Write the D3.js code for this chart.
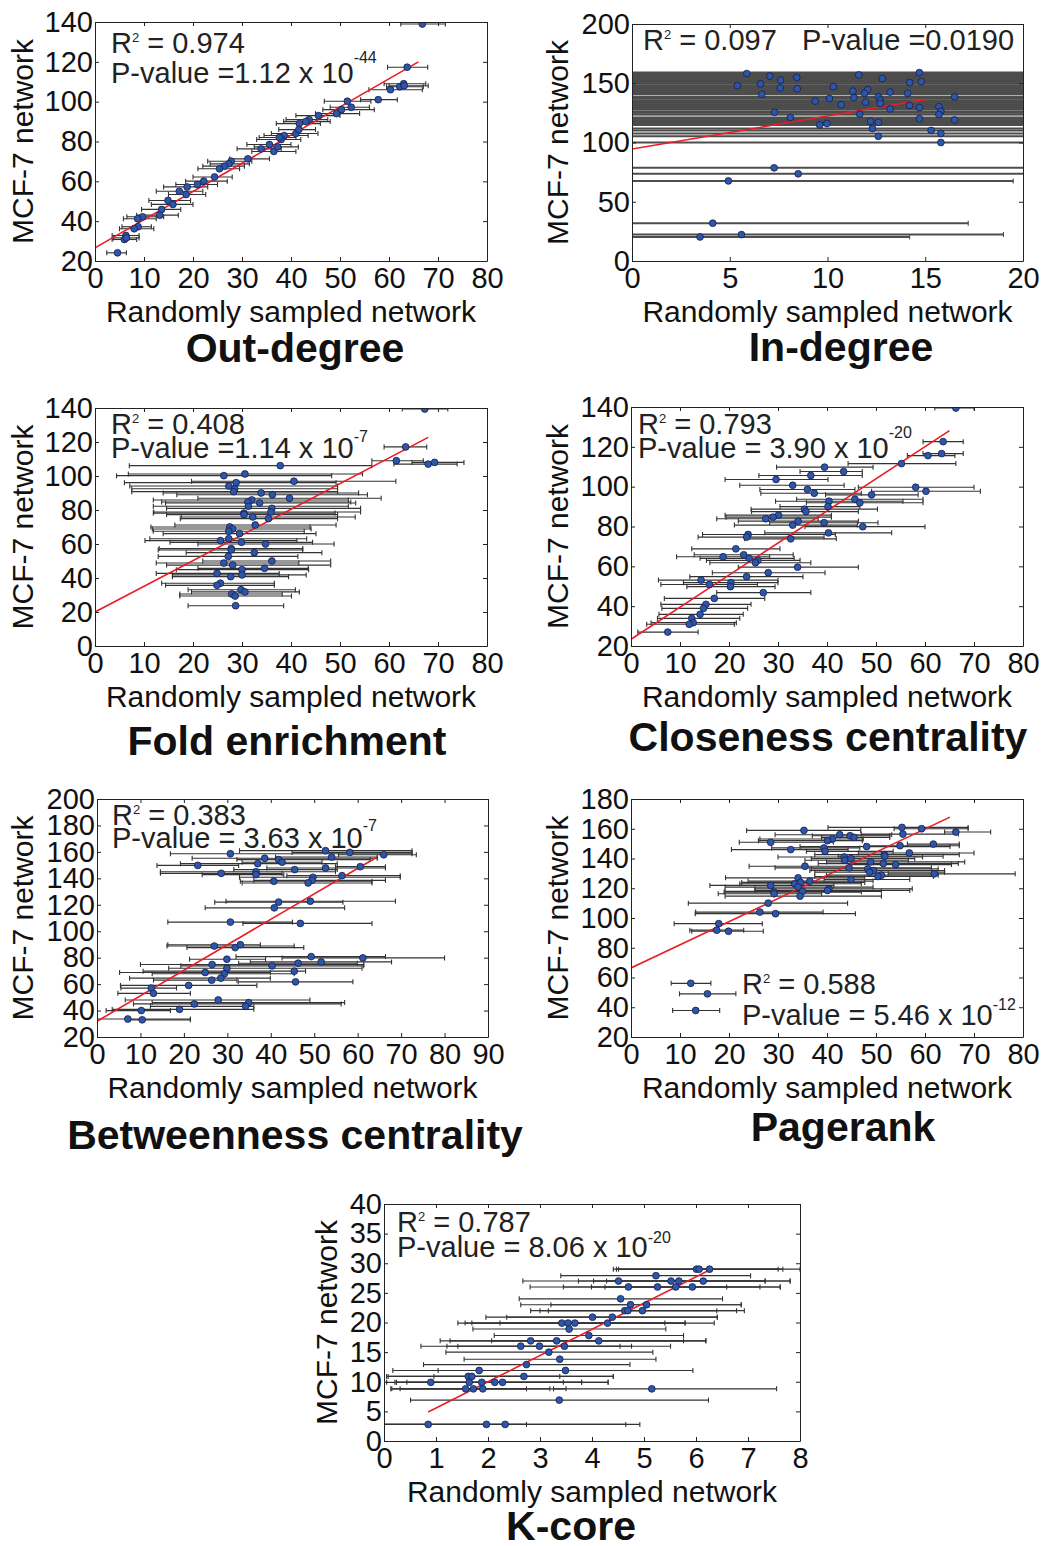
<!DOCTYPE html>
<html>
<head>
<meta charset="utf-8">
<script src="https://cdn.jsdelivr.net/npm/d3@7"></script>
<style>
  body { margin: 0; background: #fff; }
</style>
</head>
<body>
<svg id="chart"></svg>
<script>
// ---- data: each point is [x, y, xLow, xHigh] ----
const outDegree = [
  [66.8,139,62.4,71.5],[63.7,117.3,59.7,67.9],[60.3,106,55.9,66.8],[62.2,107.5,59.5,67],
  [63,109,59,67.5],[63.1,108,60,68],[57.8,101,54.2,61.7],[51.5,100.2,46.8,56.3],
  [50.3,96,46.5,57],[52.3,97.2,48,56],[49.3,94,45,54],[45.6,93,41,50],
  [43.7,91,39,47.5],[43,90,38.5,48],[41.7,89,37,46],[41,84,36,45.5],
  [41.6,86,37.5,45],[38.6,83,34.5,43.5],[38,81,33,42],[37.6,82,33.5,41],
  [35.6,78.5,31,40],[33.9,76.3,29,38],[36.5,75,32,41],[37.3,77.3,32.5,41.5],
  [31.2,71.3,27.5,35.6],[27.8,70.1,23,32],[27.3,68.8,23.5,31.5],[26.4,67.6,22,30.5],
  [25.4,66.3,21,29.5],[24.4,62.2,20,28],[22.2,60.1,18.5,27],[20.9,58.4,16.5,25],
  [18.8,57.2,14,23],[18.6,53.4,15,22.6],[17.2,55,12.5,22],[14.9,50.4,11,19.5],
  [15.9,48.4,11.5,20],[13.6,45.9,9.5,17.5],[13.2,43,8.5,17],[9.7,42.2,6.5,14],
  [8.7,41.2,5.8,12.5],[8.8,37.2,5.5,11.5],[8,36.2,5,12],[6.3,32.8,3.5,9],
  [6,30.8,3.5,8.5],[6.4,31.6,3.8,9],[4.6,24.1,2.4,6.4]
];
const inDegree = [
  [5.87,158.2,-5,25],[7.05,156,-5,25],[7.6,152.7,-5,25],[8.43,154.9,-5,25],
  [5.39,148,-5,25],[6.57,149.5,-5,25],[7.58,146,-5,25],[8.45,145.3,-5,25],
  [11.6,157,-5,25],[12.8,154,-5,25],[14.7,159,-5,25],[14.8,151.4,-5,25],
  [14.2,150.5,-5,25],[10.3,147.2,-5,25],[11.3,143.4,-5,25],[12.05,144.5,-5,25],
  [13.2,142.6,-5,25],[14.1,141.5,-5,25],[6.64,140.7,-5,25],[9.37,134.9,-5,25],
  [10.1,137.1,-5,25],[10.7,131.9,-5,25],[11.35,137.9,-5,25],[11.9,141.5,-5,25],
  [11.95,134,-5,25],[12.6,138.7,-5,25],[12.7,135.7,-5,25],[12.7,132.9,-5,25],
  [16.5,138.5,-5,25],[14.2,131.3,-5,25],[14.7,129.4,-5,25],[13.2,128.3,-5,25],
  [15.7,130.2,-5,25],[15.8,126.4,-5,25],[15.7,123.6,-5,25],[11.65,123.9,-5,25],
  [7.29,125.5,-5,25],[8.1,121.2,-5,25],[14.7,120.1,-5,25],[16.5,119,-5,25],
  [12.2,117.9,-5,25],[12.6,117,-5,25],[9.6,114.8,-5,25],[9.97,116,-5,25],
  [12.3,111.8,-5,25],[15.3,110.2,-5,25],[15.8,107.7,-5,25],[12.6,105.2,-5,25],
  [15.8,100,-5,25],[7.27,78.6,-5,25],[8.5,73.6,-5,25],[4.93,67.6,-5,19.5],
  [4.13,31.9,-5,17.2],[5.6,22.3,-5,19.0],[3.48,20.3,-5,14.2]
];
const foldEnrichment = [
  [67.3,139.4,62.7,72],[63.4,117.1,59,67.7],[61.5,109,56.5,67],[68,107,61,73.9],
  [69.3,108,64.7,75.3],[37.8,106.1,7,56.5],[26.3,100.2,4.4,48.3],[30.6,101.2,6.8,54.6],
  [40.6,96.9,19.7,61.4],[28.8,96.1,6,49.2],[27.3,94.1,7.1,49.5],[28.5,92.5,7.5,49.5],
  [28.3,90.8,7.5,49.5],[33.9,90,13.9,53.8],[36.2,89,16.7,55.6],[39.7,86.9,21,58.4],
  [32,85.9,11.9,51.7],[31.2,84.7,13.6,52.2],[33.6,84.1,14.4,53.2],[31.3,82.2,11.9,51.7],
  [36.1,81,14.6,54.2],[35.9,78.8,12,54.2],[30.4,78.2,11.9,49],[30.4,77.3,14.6,49.5],
  [32.2,75.9,17.6,53.1],[35.4,74.9,17.4,49.5],[32.7,71.2,16.3,49.2],[27.5,70,11.4,43.9],
  [28.1,68.8,11.7,44.1],[27.3,67.5,11.9,42.7],[29.5,66.1,13.9,45.1],[27.3,63.1,11.2,43.2],
  [25.6,62,10.2,41.2],[29.9,61,15.3,44.4],[34.8,60,21,48.8],[27.8,57.3,13.1,42.4],
  [27.8,56.5,12.9,42.4],[32.5,54.9,18.6,46.3],[27.2,52.7,12.9,41.4],[36.1,50,22,48.1],
  [26.3,48.8,12.5,41.6],[28.1,47.6,14.6,48.1],[34.6,45.7,21,43.5],[30,44.9,16.6,43.6],
  [24.9,42.7,12.5,37.6],[27.7,40.8,15.8,39.5],[30,41.8,15.8,43.1],[25.6,36.9,13.6,36.6],
  [24.9,35.7,14.4,36.6],[29.8,33.1,19,40.9],[30.6,31.8,19.7,41.7],[27.9,30.6,17.3,38.2],
  [28.6,29.4,17.3,40.1],[28.7,23.7,19,38.5]
];
const closeness = [
  [66.3,139.5,62,70],[63.7,122.6,59.6,67.8],[63.4,116.6,59.6,67.8],[60.6,115.6,56.4,66.1],
  [55.2,111.6,44.3,66.3],[39.5,109.8,29.7,49.4],[43.4,107.6,34.5,47.2],[36.7,105.6,26.1,47.2],
  [29.6,103.6,19.2,40.2],[33,100.7,22.2,43.5],[58.1,99.7,46.4,70],[60.2,97.7,49.1,71.3],
  [36,98.6,26.3,45.7],[37.4,96.7,26.5,47],[49.1,95.9,39.7,58.6],[40.4,92.7,29.5,55.5],
  [45.7,93.7,33.8,59.6],[46.7,91.9,35.8,59.6],[40.2,90,30.4,46.7],[35.4,88.7,24.5,50.3],
  [35.7,87.5,24.6,46.4],[30.1,85.7,19.2,40.9],[29,84.7,19.4,40.9],[27.5,83.9,17.5,38.2],
  [34.1,82.7,21.9,46.4],[33,80.7,21.1,46.2],[39.4,81.9,28.3,50.4],[47.3,79.9,35.5,60],
  [40.3,76.8,27.3,53.2],[23.9,76,14.6,41.7],[23.6,74.7,13.7,39.4],[32.6,73.8,23.2,41.9],
  [21.4,68.8,12.4,30.4],[18.8,64.8,9.3,28.3],[23,65.8,12.9,33.1],[24.1,64,14.1,33.3],
  [25.9,63,15.4,34.5],[25.4,61.8,16.1,36.7],[34,59.6,21.9,46.4],[28,56.8,16.6,39.6],
  [23.6,54.8,12,35.1],[14.3,53.1,5.6,30],[16,50.9,6.1,25.8],[20.4,51.8,10.7,30],
  [20.3,49.8,11.4,29.4],[27,46.8,17.5,36.7],[17,43.9,6.8,27.3],[15.3,40.9,6.1,24.5],
  [14.8,38.9,6.3,23.8],[14.1,35.9,5.7,22.9],[12.4,33.9,5.4,22.2],[12.7,31.7,4.1,21.5],
  [11.9,30.9,3.2,21.1],[7.5,27,1.4,13.7]
];
const betweenness = [
  [30.7,158.6,16.9,72.5],[52.6,160.9,32.8,72.5],[58.2,159.6,44.9,72.5],[66,157.8,55.6,73.5],
  [38.6,155.2,21.9,64.5],[41.8,154.2,32.2,62.9],[42.6,152.2,33.4,51.8],[54,156.1,41.1,64.5],
  [37,151.1,19.2,55.3],[23.2,149.8,13.8,32.6],[45.5,146.6,31.5,55.3],[52.6,147.8,39.1,66.4],
  [60.6,148.8,54.9,66.4],[36.6,145,14.6,54.9],[36.6,142.8,24.2,43],[28.6,143.8,14.6,42.6],
  [49.7,140.8,32.8,69.8],[49.5,138.5,36.1,66.4],[56.4,142,43.7,69.8],[40.7,137.8,33,63.3],
  [48.6,136.5,33.4,63.3],[41.8,122,27.1,56.6],[49.1,122.7,29.7,68.7],[40.8,117.7,24.9,57],
  [30.7,106.9,16.3,45],[46.8,105.9,33.6,63.3],[27,88.8,16.1,45.4],[31.8,87.6,20.7,47.6],
  [33,89.8,16.3,37.6],[29.9,78.8,21.3,38.8],[49.3,80.8,32,66.4],[61.2,79.8,42.6,80],
  [26.5,74.8,10,61.4],[40.3,73.8,19.3,61.4],[46.3,75.8,32.6,59.9],[51.6,76.8,35.3,67.8],
  [29.9,72,16.5,61],[45.4,69.8,10.6,48],[24.9,68.8,5.2,39.9],[29.3,67.8,12.7,45.4],
  [28.5,64.5,7.5,39.9],[26.4,63,13,32.2],[45.7,61.7,32.5,58.9],[21.1,59,5.4,36.8],
  [12.5,57,5.5,18.3],[13,53,4.8,21.5],[27.9,48,6.5,49],[34.9,46,12.7,57],
  [22.4,45,8.4,56.2],[34.2,43.2,12.3,36.1],[19,40.9,3.5,36.1],[10.2,40,2.1,16.9],
  [7.1,33.6,-1,21.5],[10.4,33,6.9,21.5]
];
const pagerank = [
  [35.3,158.9,23.6,46.9],[55.3,160.9,40.2,68.8],[59.3,160,53.7,68.8],[66.3,157.8,64,73.4],
  [55.5,156.4,47,66.8],[42.6,156,29.4,53.2],[44.7,155.3,37,52.8],[45.5,154.2,38.9,52.8],
  [41.1,153.1,26.3,47.4],[40.1,152,26,47.2],[28.5,150.9,22.1,41.3],[48.1,148,34.5,65.1],
  [54.9,148.6,47.7,67],[61.7,149.7,56.4,67],[32.6,146,20.5,44.3],[39.4,147.1,28.7,46.7],
  [39.6,144.8,35.8,53.5],[56.8,143.7,46.4,70],[51.7,142.6,37.5,67],[51.8,141.5,42.3,63.7],
  [43.5,141,30,59.5],[43.6,138.8,35.5,56.6],[44.9,139.9,36.8,57.9],[48.9,137.7,39.9,68.1],
  [51.5,136.6,38.2,66.8],[54,135.9,45,65.4],[35.5,134.8,24.1,44.5],[44.5,133.7,29.4,61.3],
  [48.3,133,36.8,62.7],[49.5,131.9,36.5,64],[48.7,130.8,37.5,64],[51.1,128.8,39.9,62.7],
  [50.4,127.9,37.5,61.7],[61.9,129.7,52.5,78.4],[34.1,127,19.3,47.7],[36.5,124.8,23.9,49.4],
  [44.9,125.9,39.4,56.9],[34.6,123.9,22.6,47.7],[33.4,123,22.2,47],[28.5,121.9,16.1,41.4],
  [34.1,120.8,19.2,49.4],[35,117.9,19.2,51.1],[40.4,119.6,25.3,57.4],[40.1,118.5,25.3,56.9],
  [29.2,117.4,19,47],[29.2,116.3,17.8,38.9],[34.5,114.7,19.2,51.1],[28,110,11.7,44.2],
  [26.3,104,13.2,39.2],[29.5,102.9,13.1,45.8],[17.9,96.2,8.8,26.8],[17.5,91.8,12,23],
  [19.9,91.1,12.4,27]
];
const pagerankLegend = [[12.2,56.1,8.2,16.3],[15.6,49,9.9,21.4],[13.2,37.8,8.5,18.1]];
const kCore = [
  [6.01,29,4.41,7.67],[6.06,29,4.47,7.58],[6.26,29,4.51,8],[5.23,27.9,3.4,7.05],
  [4.51,27,2.67,7.33],[5.52,27,3.74,7.81],[5.67,27,4.03,7.33],[6.14,27,4.28,7.81],
  [4.7,26,2.81,6.59],[5.26,26,3.45,7.23],[5.61,26,3.99,7.62],[5.93,26,4.25,7.62],
  [4.55,24,2.6,6.51],[4.74,23,2.63,6.87],[5.05,23,3.21,6.87],[4.63,22,2.82,6.93],
  [4.69,22,3,6.4],[4.97,22,3.16,6.78],[4.01,20.9,1.96,6.41],[4.39,20.9,2.36,6.41],
  [3.42,19.9,1.42,5.4],[3.54,19.9,1.56,6.35],[3.67,19.9,1.69,5.79],[4.3,19.9,2.23,5.79],
  [3.56,18.9,1.71,5.42],[3.94,17.8,2.12,5.76],[2.82,16.9,1.08,5.76],[3.32,16.9,1.27,6.19],
  [4.13,16.9,2.07,6.19],[2.63,16,0.71,4.54],[2.99,16,1.21,4.76],[3.47,16,1.42,5.51],
  [3.17,15,1.19,5.17],[3.38,13.8,1.54,5.23],[2.74,12.9,0.76,4.73],[1.83,11.9,0.17,3.5],
  [3.49,11.9,1.04,5.94],[1.62,10.9,0.05,4.41],[1.69,10.9,0.08,4.41],[2.69,10.9,0.96,3.38],
  [0.9,9.9,0.05,4.31],[1.64,9.9,0.24,4.31],[1.88,9.9,0.44,3.8],[2.13,9.9,0.21,3.45],
  [2.28,9.9,0.24,3.8],[1.57,8.8,0.13,3.19],[1.72,8.8,0.31,3.5],[1.9,8.8,0.15,2.74],
  [5.15,8.8,3.26,7.55],[3.37,6.9,0.51,6.24],[0.85,2.8,-0.2,4.92],[1.97,2.8,-0.2,4.65],
  [2.33,2.8,-0.2,2.74]
];

// regression lines: [xStart, yStart, xEnd, yEnd]
const fitLines = [
  [0,26.6,66,120], [0,94.5,15,136.3], [0,20,68,122.7], [0,23.4,65,128.1],
  [0,31.9,64.3,155.8], [0,66.4,65.1,167.8], [0.85,4.9,6.27,28.9]
];

// tick labels
const xTicks80 = [0,10,20,30,40,50,60,70,80];
const xTicks90 = [0,10,20,30,40,50,60,70,80,90];
const xTicks20 = [0,5,10,15,20];
const xTicks8 = [0,1,2,3,4,5,6,7,8];
const yTicks20to140 = [20,40,60,80,100,120,140];
const yTicks0to140 = [0,20,40,60,80,100,120,140];
const yTicks0to200 = [0,50,100,150,200];
const yTicks20to200 = [20,40,60,80,100,120,140,160,180,200];
const yTicks20to180 = [20,40,60,80,100,120,140,160,180];
const yTicks0to40 = [0,5,10,15,20,25,30,35,40];

const titles = ["Out-degree","In-degree","Fold enrichment","Closeness centrality",
                "Betweenness centrality","Pagerank","K-core"];
const r2Values = ["0.974","0.097","0.408","0.793","0.383","0.588","0.787"];
const pValues = ["=1.12 x 10","=0.0190","=1.14 x 10","= 3.90 x 10","= 3.63 x 10","= 5.46 x 10","= 8.06 x 10"];
const pExponents = ["-44","","-7","-20","-7","-12","-20"];

// layout for each panel
const panels = [
  {pts: outDegree, box:[95,22,487,261], xd:[0,80], yd:[20,140], xt:xTicks80, yt:yTicks20to140,
   ylx:22, title:[295,362], stat:[111,53,111,83], expDy:-20},
  {pts: inDegree, box:[632,24,1023,261], xd:[0,20], yd:[0,200], xt:xTicks20, yt:yTicks0to200,
   ylx:557, title:[841,361], stat:[643,50,802,50], expDy:0, barW:2, barC:"#4d4d4d"},
  {pts: foldEnrichment, box:[95,408,487,646], xd:[0,80], yd:[0,140], xt:xTicks80, yt:yTicks0to140,
   ylx:22, title:[287,755], stat:[111,434,111,458], expDy:-16},
  {pts: closeness, box:[631,407,1023,646], xd:[0,80], yd:[20,140], xt:xTicks80, yt:yTicks20to140,
   ylx:557, title:[828,751], stat:[638,434,638,458], expDy:-20},
  {pts: betweenness, box:[97,799,488,1037], xd:[0,90], yd:[20,200], xt:xTicks90, yt:yTicks20to200,
   ylx:22, title:[295,1149], stat:[112,825,112,848], expDy:-17},
  {pts: pagerank, box:[631,799,1023,1037], xd:[0,80], yd:[20,180], xt:xTicks80, yt:yTicks20to180,
   ylx:557, title:[843,1141], stat:[742,994,742,1025], expDy:-15, legend: pagerankLegend},
  {pts: kCore, box:[384,1204,800,1441], xd:[0,8], yd:[0,40], xt:xTicks8, yt:yTicks0to40,
   ylx:326, title:[571,1540], stat:[397,1232,397,1257], expDy:-14}
];

const FONT = "'Liberation Sans', Arial, Helvetica, sans-serif";
const svg = d3.select("#chart").attr("width", 1042).attr("height", 1546);

function drawPoints(g, pts, x, y, w, c) {
  const bars = g.append("g").selectAll("g").data(pts).join("g")
    .attr("stroke", c || "#333").attr("stroke-width", w || 1.15);
  bars.append("line")
    .attr("x1", d => x(d[2])).attr("x2", d => x(d[3]))
    .attr("y1", d => y(d[1])).attr("y2", d => y(d[1]));
  [2, 3].forEach(k => {
    bars.append("line").attr("stroke-width", 1.1)
      .attr("x1", d => x(d[k])).attr("x2", d => x(d[k]))
      .attr("y1", d => y(d[1]) - 2.5).attr("y2", d => y(d[1]) + 2.5);
  });
}

function drawMarkers(g, pts, x, y) {
  g.append("g").selectAll("circle").data(pts).join("circle")
    .attr("cx", d => x(d[0])).attr("cy", d => y(d[1])).attr("r", 3.4)
    .attr("fill", "#2d55a8").attr("stroke", "#17204d").attr("stroke-width", 0.8);
}

function richText(g, x, y, parts) {
  const t = g.append("text").attr("x", x).attr("y", y)
    .attr("font-family", FONT).attr("font-size", 29).attr("fill", "#222");
  let shift = 0;
  parts.forEach(([s, dy, size]) => {
    t.append("tspan").attr("dy", dy - shift).attr("font-size", size || 29).text(s);
    shift = dy;
  });
}

panels.forEach((p, i) => {
  const [x0, y0, x1, y1] = p.box;
  const x = d3.scaleLinear().domain(p.xd).range([x0, x1]);
  const y = d3.scaleLinear().domain(p.yd).range([y1, y0]);
  const g = svg.append("g");

  svg.append("clipPath").attr("id", "clip" + i).append("rect")
    .attr("x", x0).attr("y", y0).attr("width", x1 - x0).attr("height", y1 - y0);
  const plot = g.append("g").attr("clip-path", `url(#clip${i})`);

  drawPoints(plot, p.pts, x, y, p.barW, p.barC);
  const f = fitLines[i];
  plot.append("line")
    .attr("x1", x(f[0])).attr("y1", y(f[1])).attr("x2", x(f[2])).attr("y2", y(f[3]))
    .attr("stroke", "#ec1c24").attr("stroke-width", 1.6);
  drawMarkers(plot, p.pts, x, y);

  if (p.legend) {
    drawPoints(g, p.legend, x, y);
    drawMarkers(g, p.legend, x, y);
  }

  // box axes with inward ticks on all four sides
  const axes = [
    [d3.axisBottom(x).tickValues(p.xt).tickPadding(6), `translate(0,${y1})`],
    [d3.axisTop(x).tickValues(p.xt).tickFormat(() => ""), `translate(0,${y0})`],
    [d3.axisLeft(y).tickValues(p.yt).tickPadding(2), `translate(${x0},0)`],
    [d3.axisRight(y).tickValues(p.yt).tickFormat(() => ""), `translate(${x1},0)`]
  ];
  axes.forEach(([ax, tr]) => {
    const a = g.append("g").attr("transform", tr)
      .call(ax.tickSizeInner(-4).tickSizeOuter(0));
    a.select(".domain").attr("stroke", "#222");
    a.selectAll(".tick line").attr("stroke", "#222");
    a.selectAll("text").attr("font-size", 29).attr("font-family", FONT).attr("fill", "#111");
  });

  // axis labels and title
  g.append("text")
    .attr("transform", `translate(${p.ylx},${(y0 + y1) / 2}) rotate(-90)`)
    .attr("text-anchor", "middle").attr("dominant-baseline", "central")
    .attr("font-family", FONT).attr("font-size", 30).attr("fill", "#111")
    .text("MCF-7 network");
  g.append("text")
    .attr("x", (x0 + x1) / 2).attr("y", y1 + 61).attr("text-anchor", "middle")
    .attr("font-family", FONT).attr("font-size", 30).attr("fill", "#111")
    .text("Randomly sampled network");
  g.append("text")
    .attr("x", p.title[0]).attr("y", p.title[1]).attr("text-anchor", "middle")
    .attr("font-family", FONT).attr("font-size", 41).attr("font-weight", "bold").attr("fill", "#111")
    .text(titles[i]);

  // stats
  const s = p.stat;
  richText(g, s[0], s[1], [["R", 0], ["2", -11, 13], [" = " + r2Values[i], 0]]);
  const pParts = [["P-value " + pValues[i], 0]];
  if (pExponents[i]) pParts.push([pExponents[i], p.expDy, 16]);
  richText(g, s[2], s[3], pParts);
});
</script>
</body>
</html>
